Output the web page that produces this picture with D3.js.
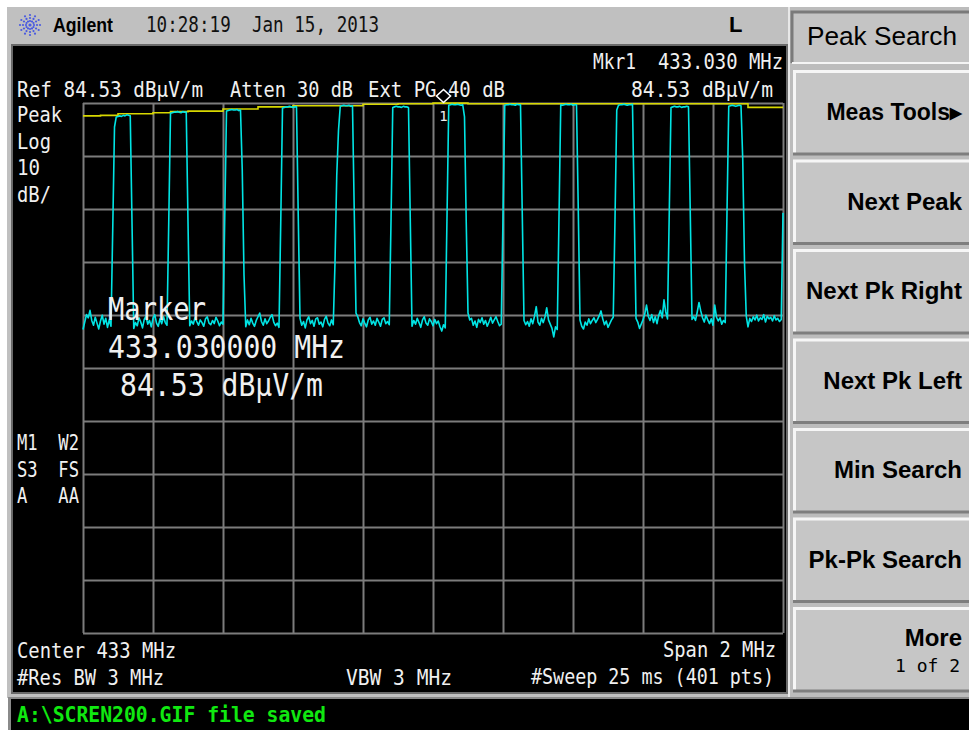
<!DOCTYPE html>
<html>
<head>
<meta charset="utf-8">
<script src="https://cdn.jsdelivr.net/npm/d3@7"></script>
<style>
  body { margin: 0; background: #fff; }
  svg { display: block; }
  text { white-space: pre; }
</style>
</head>
<body>
<div id="screen"></div>
<script>
// Analyzer settings
const refLevel = 84.53;      // dBuV/m, top of graticule
const dbPerDiv = 10;
const centerFreq = 433;      // MHz
const spanFreq = 2;          // MHz
const sweepPoints = 401;

// Trace 2 (cyan, clear/write) - one level per sweep point, dBuV/m
const traceLevels = [
  41.8, 43.2, 44.6, 44.0, 45.4, 43.5, 42.6, 44.1, 43.0, 41.9, 43.4, 44.5, 42.8, 43.9, 42.2, 43.6, 42.4,
  60.9, 80.0, 81.9, 82.0, 82.1, 82.0, 82.2, 82.1, 82.3, 82.2, 82.1, 62.1,
  42.0, 43.1, 42.5, 44.0, 43.2, 42.1, 43.7, 44.3, 42.8, 43.5, 42.3, 43.9, 44.6, 43.0, 42.4, 43.8, 42.9, 44.2, 43.1, 42.6,
  62.1, 82.6, 82.7, 82.8, 82.8, 82.9, 82.8, 82.7, 82.9, 82.8, 82.8, 62.1,
  42.5, 43.4, 42.8, 44.0, 43.3, 42.6, 43.6, 43.1, 42.4, 43.8, 44.2, 43.0, 42.7, 43.5, 42.9, 44.1, 43.4, 42.5, 43.2, 42.8,
  63.0, 83.0, 83.1, 83.2, 83.3, 83.2, 83.2, 83.3, 83.1, 83.2, 71.9, 52.1,
  42.3, 43.6, 42.7, 43.9, 43.0, 42.4, 43.5, 44.2, 44.9, 43.3, 42.6, 43.8, 42.9, 43.4, 44.1, 44.6, 43.2, 42.5, 43.0, 42.2,
  62.1, 83.6, 83.7, 83.8, 83.8, 83.9, 83.8, 83.7, 83.8, 83.8, 63.2,
  43.9, 42.6, 43.3, 42.1, 43.6, 44.2, 42.9, 43.5, 42.4, 43.8, 44.0, 42.8, 43.2, 42.3, 43.7, 44.3, 43.0, 42.5, 43.6, 42.7,
  54.4, 70.9, 79.4, 83.9, 84.0, 84.1, 84.0, 84.0, 84.1, 83.9, 84.0, 64.0,
  44.9, 44.2, 43.1, 42.5, 43.8, 43.0, 42.3, 43.6, 44.1, 42.8, 43.4, 42.6, 43.9, 43.2, 42.4, 43.7, 44.0, 42.9, 43.3, 42.7,
  62.1, 83.7, 83.8, 83.9, 83.8, 83.8, 83.7, 83.9, 83.8, 83.8, 83.7, 62.8,
  42.4, 43.5, 42.8, 43.9, 43.1, 42.2, 43.6, 44.2, 43.0, 42.6, 43.8, 43.3, 42.5, 43.7, 42.9, 43.4, 42.3, 41.5, 42.7, 42.1,
  63.0, 84.1, 84.2, 84.3, 84.2, 84.2, 84.3, 84.2, 84.1, 84.2, 81.9, 61.9,
  44.9, 43.6, 43.9, 42.6, 43.4, 42.2, 43.7, 43.1, 44.0, 42.8, 43.5, 42.4, 43.2, 44.1, 43.0, 43.6, 44.2, 43.3, 42.5, 42.8,
  63.0, 84.1, 84.2, 84.2, 84.3, 84.2, 84.2, 84.1, 84.3, 84.2, 84.2, 63.8,
  43.5, 42.7, 43.3, 42.4, 43.8, 42.9, 44.3, 46.1, 43.2, 42.6, 43.9, 43.1, 44.2, 45.9, 43.6, 42.8, 42.0, 40.4, 42.3, 41.8,
  63.0, 84.2, 84.1, 84.2, 84.3, 84.2, 84.2, 84.3, 84.1, 84.2, 84.2, 64.7,
  43.6, 42.4, 41.9, 43.2, 42.6, 43.8, 42.9, 43.5, 44.0, 43.1, 43.7, 44.4, 45.3, 43.8, 42.7, 43.4, 42.2, 42.9, 43.6, 44.1,
  62.5, 83.2, 84.1, 84.2, 84.2, 84.3, 84.2, 84.1, 84.2, 84.2, 84.3, 63.8,
  43.9, 43.2, 42.0, 42.8, 43.6, 44.7, 46.4, 44.3, 43.5, 44.6, 43.1, 44.2, 42.9, 44.5, 45.4, 44.0, 47.4, 45.1, 43.8,
  63.8, 83.7, 83.8, 83.9, 83.8, 83.8, 83.9, 83.7, 83.8, 83.8, 83.9, 83.8, 64.0,
  43.7, 44.2, 43.5, 45.1, 46.9, 45.3, 44.0, 43.2, 44.5, 43.6, 42.9, 43.8, 42.6, 46.4, 44.1, 43.4, 44.0, 42.8, 43.5, 43.1,
  64.0, 83.9, 84.0, 84.1, 84.0, 83.9, 84.0, 84.1, 84.0, 73.8, 54.4,
  44.3, 42.3, 43.9, 43.3, 44.2, 43.6, 44.5, 43.4, 44.0, 43.7, 44.6, 43.2, 44.3, 43.8, 44.1, 43.4, 44.4, 43.6, 43.9, 43.3, 43.7,
  63.8
];

// Trace 1 (yellow, max hold) - read every 10th sweep point
const maxHoldStep = 10;
const maxHoldLevels = [
  82.1, 82.2, 82.5, 82.5, 82.7, 82.9, 83.0, 83.0, 83.4, 83.4,
  83.8, 83.8, 84.0, 84.0, 84.0, 84.0, 84.3, 84.3, 84.4, 84.4,
  84.5, 84.5, 84.4, 84.4, 84.4, 84.4, 84.4, 84.4, 84.4, 84.4,
  84.4, 84.4, 84.4, 84.4, 84.4, 84.4, 84.4, 84.4, 83.7, 83.7,
  83.7
];

// Marker 1
const markerFreq = 433.030;
const markerLevel = 84.53;

// Screen texts
const dateText = "10:28:19  Jan 15, 2013";
const menuTitle = "Peak Search";
const softkeys = ["Meas Tools\u25B8", "Next Peak", "Next Pk Right", "Next Pk Left", "Min Search", "Pk-Pk Search", "More"];
const statusText = "A:\\SCREN200.GIF file saved";

const W = 969, H = 730;
const plot = { left: 83, right: 783, top: 103, bottom: 633 };
const mono = "'DejaVu Sans Mono', monospace";
const sans = "'Liberation Sans', Arial, sans-serif";

const svg = d3.select("#screen").append("svg")
  .attr("width", W)
  .attr("height", H);

// ---------- instrument chrome ----------
svg.append("rect").attr("width", W).attr("height", H).attr("fill", "#fff");
svg.append("rect").attr("x", 7).attr("y", 7).attr("width", W - 7).attr("height", 691).attr("fill", "#c0c0c0");
// display area
svg.append("rect").attr("x", 11).attr("y", 44).attr("width", 777).attr("height", 650).attr("fill", "#6a6a6a");
svg.append("rect").attr("x", 13).attr("y", 46).attr("width", 773).attr("height", 646).attr("fill", "#000");
// status bar
svg.append("rect").attr("x", 8).attr("y", 697).attr("width", W - 8).attr("height", 33).attr("fill", "#8a8a8a");
svg.append("rect").attr("x", 11).attr("y", 699).attr("width", W - 11).attr("height", 31).attr("fill", "#000");

// Agilent starburst
const logo = svg.append("g").attr("transform", "translate(30,25)");
d3.range(12).forEach(k => {
  const a = k * Math.PI / 6;
  [4, 7, 10].forEach(r => {
    logo.append("circle")
      .attr("cx", r * Math.cos(a)).attr("cy", r * Math.sin(a))
      .attr("r", 1.1).attr("fill", "#4a5ae0");
  });
});
logo.append("circle").attr("r", 1.6).attr("fill", "#4a5ae0");

function txt(parent, str, x0, base, size, len, opts = {}) {
  const t = parent.append("text")
    .attr("x", x0).attr("y", base)
    .attr("font-family", opts.family || mono)
    .attr("font-size", size)
    .attr("font-weight", opts.weight || "normal")
    .attr("fill", opts.fill || "#f0f0f0")
    .attr("text-anchor", opts.anchor || "start")
    .text(str);
  if (len) t.attr("textLength", len).attr("lengthAdjust", "spacingAndGlyphs");
  return t;
}

txt(svg, "Agilent", 53, 32, 21, 60, { family: sans, weight: "bold", fill: "#000" });
txt(svg, dateText, 146, 32, 22, 233, { fill: "#111" });
txt(svg, "L", 729, 32, 22, null, { family: sans, weight: "bold", fill: "#000" });

// ---------- softkey panel ----------
const panel = svg.append("g");
panel.append("rect").attr("x", 788).attr("y", 7).attr("width", W - 788).attr("height", 690).attr("fill", "#bcbcbc");
panel.append("line").attr("x1", 789).attr("x2", 789).attr("y1", 7).attr("y2", 697).attr("stroke", "#e8e8e8").attr("stroke-width", 2);
// title box (sunken)
panel.append("rect").attr("x", 792).attr("y", 12).attr("width", W - 792).attr("height", 51).attr("fill", "#c4c4c4");
panel.append("path").attr("d", `M792,63 V12 H${W}`).attr("fill", "none").attr("stroke", "#7a7a7a").attr("stroke-width", 3);
panel.append("path").attr("d", `M792,63 H${W}`).attr("fill", "none").attr("stroke", "#f4f4f4").attr("stroke-width", 2);
txt(panel, menuTitle, 807, 45, 26, 150, { family: sans, fill: "#000" });

const keyTop = i => 70 + i * 89.5;
const keys = panel.selectAll("g.key").data(softkeys).join("g").attr("class", "key")
  .attr("transform", (d, i) => `translate(0,${keyTop(i)})`);
keys.append("rect").attr("x", 793).attr("y", 0).attr("width", W - 793).attr("height", 85).attr("fill", "#c6c6c6");
keys.append("path").attr("d", `M794.5,85 V1.5 H${W}`).attr("fill", "none").attr("stroke", "#f6f6f6").attr("stroke-width", 3);
keys.append("path").attr("d", `M793,84 H${W}`).attr("fill", "none").attr("stroke", "#7e7e7e").attr("stroke-width", 3);
keys.append("text")
  .attr("x", 962)
  .attr("y", (d, i) => i === softkeys.length - 1 ? 39 : 50)
  .attr("text-anchor", "end")
  .attr("font-family", sans)
  .attr("font-weight", "bold")
  .attr("font-size", (d, i) => i === 0 ? 23 : 24)
  .attr("fill", "#000")
  .text(d => d);
txt(panel, "1 of 2", 960, 672, 18, null, { fill: "#000", anchor: "end" });

// ---------- graticule ----------
const x = d3.scaleLinear()
  .domain([centerFreq - spanFreq / 2, centerFreq + spanFreq / 2])
  .range([plot.left, plot.right]);
const y = d3.scaleLinear()
  .domain([refLevel - 10 * dbPerDiv, refLevel])
  .range([plot.bottom, plot.top]);

const xTicks = d3.range(11).map(k => x.domain()[0] + k * spanFreq / 10);
const yTicks = d3.range(11).map(k => y.domain()[0] + k * dbPerDiv);

svg.append("g")
  .attr("transform", `translate(0,${plot.bottom})`)
  .call(d3.axisBottom(x).tickValues(xTicks).tickSize(-(plot.bottom - plot.top)).tickFormat(""))
  .call(g => g.select(".domain").remove())
  .selectAll("line").attr("stroke", "#7c7c7c").attr("stroke-width", 2);

svg.append("g")
  .attr("transform", `translate(${plot.left},0)`)
  .call(d3.axisLeft(y).tickValues(yTicks).tickSize(-(plot.right - plot.left)).tickFormat(""))
  .call(g => g.select(".domain").remove())
  .selectAll("line").attr("stroke", "#7c7c7c").attr("stroke-width", 2);

svg.append("defs").append("clipPath").attr("id", "grat")
  .append("rect").attr("x", plot.left - 1).attr("y", plot.top - 2)
  .attr("width", plot.right - plot.left + 2).attr("height", plot.bottom - plot.top + 3);

const freqAt = i => x.domain()[0] + i * spanFreq / (sweepPoints - 1);

// max hold trace (yellow)
svg.append("path")
  .datum(maxHoldLevels)
  .attr("clip-path", "url(#grat)")
  .attr("fill", "none")
  .attr("stroke", "#d8d800")
  .attr("stroke-width", 1.6)
  .attr("d", d3.line()
    .x((d, k) => x(freqAt(k * maxHoldStep)))
    .y(d => y(d))
    .curve(d3.curveStepAfter));

// clear/write trace (cyan)
svg.append("path")
  .datum(traceLevels)
  .attr("clip-path", "url(#grat)")
  .attr("fill", "none")
  .attr("stroke", "#00e4e4")
  .attr("stroke-width", 1.6)
  .attr("stroke-linejoin", "round")
  .attr("d", d3.line()
    .x((d, i) => x(freqAt(i)))
    .y(d => y(d)));

// marker 1
const mx = x(markerFreq), my = y(markerLevel);
svg.append("path")
  .attr("transform", `translate(${mx},${my - 7})`)
  .attr("d", "M0,-6.5 L7,0 L0,6.5 L-7,0 Z")
  .attr("fill", "none").attr("stroke", "#fff").attr("stroke-width", 1.6);
txt(svg, "1", mx, my + 18, 14, null, { anchor: "middle" });

// ---------- annotations ----------
const ann = svg.append("g");
txt(ann, `Ref ${refLevel} dB\u00B5V/m`, 17, 97, 22, 186);
txt(ann, "Atten 30 dB", 230, 97, 22, 123);
txt(ann, "Ext PG 40 dB", 368, 97, 22, 137);
txt(ann, "Mkr1", 593, 69, 22, 43);
txt(ann, `${markerFreq.toFixed(3)} MHz`, 658, 69, 22, 125);
txt(ann, `${markerLevel} dB\u00B5V/m`, 631, 97, 22, 142);

txt(ann, "Peak", 17, 122, 22, 45);
txt(ann, "Log", 17, 149, 22, 34);
txt(ann, `${dbPerDiv}`, 17, 175, 22, 23);
txt(ann, "dB/", 17, 202, 22, 34);

txt(ann, "M1  W2", 17, 450, 22, 62);
txt(ann, "S3  FS", 17, 477, 22, 62);
txt(ann, "A   AA", 17, 503, 22, 62);

txt(ann, "Marker", 108, 320, 32, 98);
txt(ann, `${markerFreq.toFixed(6)} MHz`, 108, 358, 32, 237);
txt(ann, `${markerLevel} dB\u00B5V/m`, 120, 396, 32, 203);

txt(ann, `Center ${centerFreq} MHz`, 17, 658, 22, 159);
txt(ann, `Span ${spanFreq} MHz`, 663, 657, 22, 113);
txt(ann, "#Res BW 3 MHz", 17, 685, 22, 147);
txt(ann, "VBW 3 MHz", 346, 685, 22, 106);
txt(ann, `#Sweep 25 ms (${sweepPoints} pts)`, 531, 684, 22, 243);

txt(svg, statusText, 17, 722, 22, 309, { weight: "bold", fill: "#10e810" });
</script>
</body>
</html>
